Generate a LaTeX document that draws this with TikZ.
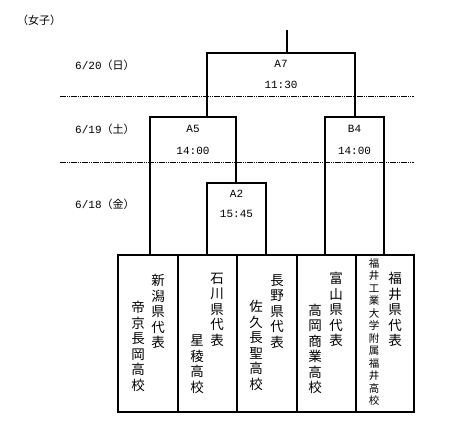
\documentclass[tikz,border=0pt]{standalone}
\usepackage{fontspec}
\setmainfont{Noto Sans CJK JP}
\newfontfamily\lat{Liberation Mono}
\begin{document}
\begin{tikzpicture}[x=1pt,y=-1pt,
  bline/.style={line width=1.2pt},
  dline/.style={line width=0.7pt,dash pattern=on 1.5pt off 0.7pt},
  teambox/.style={draw,line width=1.2pt,minimum height=157pt,inner sep=0pt},
  lbl/.style={font=\fontsize{11}{13}\selectfont\lat,inner sep=0pt},
  datel/.style={font=\fontsize{11}{13}\selectfont,inner sep=0pt,anchor=west},
  vt/.style={font=\fontsize{13.5}{15.5}\selectfont,align=center,inner sep=0pt},
  vts/.style={font=\fontsize{10.5}{12.5}\selectfont,align=center,inner sep=0pt}]
\useasboundingbox (0,0) rectangle (458,429);

% headings
\node[datel] (hd) at (17,20) {（女子）};
\node[datel] (d20) at (75,65) {{\lat 6/20}（日）};
\node[datel] (d19) at (75,129) {{\lat 6/19}（土）};
\node[datel] (d18) at (75,204) {{\lat 6/18}（金）};

% dashed separators
\coordinate (d1a) at (60,96); \coordinate (d1b) at (414,96);
\coordinate (d2a) at (60,162); \coordinate (d2b) at (414,162);
\draw[dline] (d1a) -- (d1b);
\draw[dline] (d2a) -- (d2b);

% team boxes
\node[teambox,minimum width=60pt] (t1) at (148,333.5) {};
\node[teambox,minimum width=59pt] (t2) at (207.5,333.5) {};
\node[teambox,minimum width=60pt] (t3) at (267,333.5) {};
\node[teambox,minimum width=59pt] (t4) at (326.5,333.5) {};
\node[teambox,minimum width=58pt] (t5) at (385,333.5) {};

% bracket coordinates
\coordinate (r) at (287,30); \coordinate (r0) at (287,53);
\coordinate (a7l) at (207,53); \coordinate (a7r) at (355,53);
\coordinate (a5l) at (150,117); \coordinate (a5r) at (236,117); \coordinate (a5m) at (207,117);
\coordinate (b4l) at (325,117); \coordinate (b4r) at (384,117); \coordinate (b4m) at (355,117);
\coordinate (a2l) at (207,183); \coordinate (a2r) at (266,183); \coordinate (a2m) at (236,183);

\draw[bline] (r) -- (r0);
\draw[bline] (a5m) -- (a7l) -- (a7r) -- (b4m);
\draw[bline] (a5l |- t1.north) -- (a5l) -- (a5r) -- (a2m);
\draw[bline] (a2l |- t2.north) -- (a2l) -- (a2r) -- (a2r |- t3.north);
\draw[bline] (b4l |- t4.north) -- (b4l) -- (b4r) -- (b4r |- t5.north);

% match labels
\node[lbl] (a7) at (281,64) {A7};
\node[lbl] (a7t) at (281,85) {11:30};
\node[lbl] (a5) at (193,129) {A5};
\node[lbl] (a5t) at (193,151) {14:00};
\node[lbl] (b4) at (354.5,129) {B4};
\node[lbl] (b4t) at (354.5,151) {14:00};
\node[lbl] (a2) at (236.5,194) {A2};
\node[lbl] (a2t) at (236.5,214) {15:45};

% team names (vertical)
\node[vt] (p1) at (158,311.5) {新\\潟\\県\\代\\表};
\node[vt] (s1) at (138,346.5) {帝\\京\\長\\岡\\高\\校};
\node[vt] (p2) at (217,309.5) {石\\川\\県\\代\\表};
\node[vt] (s2) at (197,364) {星\\稜\\高\\校};
\node[vt] (p3) at (277,311.5) {長\\野\\県\\代\\表};
\node[vt] (s3) at (256,345.5) {佐\\久\\長\\聖\\高\\校};
\node[vt] (p4) at (336,309.5) {富\\山\\県\\代\\表};
\node[vt] (s4) at (315,349) {高\\岡\\商\\業\\高\\校};
\node[vt] (p5) at (395,309.5) {福\\井\\県\\代\\表};
\node[vts] (s5) at (374,332) {福\\井\\工\\業\\大\\学\\附\\属\\福\\井\\高\\校};
\end{tikzpicture}
\end{document}
